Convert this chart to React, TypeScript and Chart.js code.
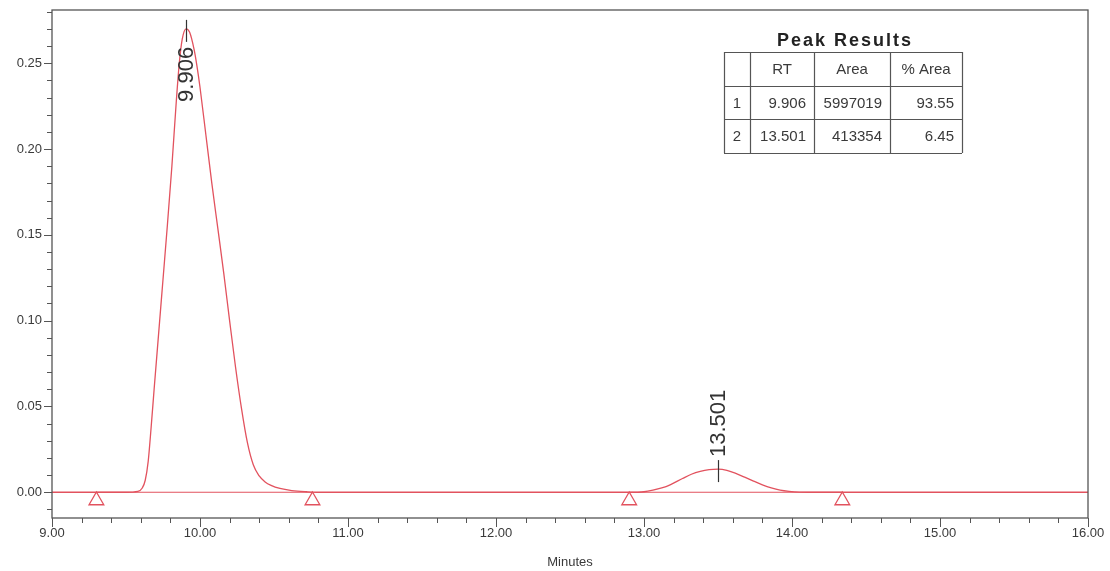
import React, { useEffect, useRef } from "react";
import { Chart, registerables } from "chart.js";

Chart.register(...registerables);

// ---- Data ----
const TIMES = [
  9.0, 9.3, 9.5, 9.58, 9.61, 9.63, 9.65, 9.67, 9.69, 9.72, 9.75, 9.78, 9.81, 9.84, 9.86, 9.88, 9.906,
  9.93, 9.96, 9.98, 10.0, 10.04, 10.08, 10.12, 10.16, 10.2, 10.24, 10.28, 10.32, 10.36, 10.4, 10.44, 10.48, 10.54,
  10.62, 10.72, 10.8, 11.5, 12.2, 12.9, 13.0, 13.06, 13.12, 13.18, 13.26, 13.32, 13.38, 13.44, 13.501, 13.56,
  13.62, 13.68, 13.74, 13.8, 13.86, 13.92, 13.98, 14.05, 14.2, 15.0, 16.0,
];
const SIGNAL = [
  0.0, 0.0, 0.0, 0.0005, 0.0025, 0.007, 0.018, 0.038, 0.06, 0.092, 0.124, 0.156, 0.19, 0.228, 0.25, 0.264, 0.27,
  0.268, 0.258, 0.248, 0.236, 0.208, 0.18, 0.154, 0.128, 0.1, 0.073, 0.049, 0.029, 0.016, 0.0095, 0.006, 0.004, 0.0022,
  0.001, 0.0003, 0.0, 0.0, 0.0, 0.0, 0.0003, 0.0012, 0.0025, 0.0045, 0.008, 0.0105, 0.0122, 0.0132, 0.0135, 0.0128,
  0.011, 0.0088, 0.0065, 0.0043, 0.0025, 0.0012, 0.0005, 0.0001, 0.0, 0.0, 0.0,
];

const PEAK_RT = [9.906, 13.501];
const PEAK_HEIGHT = [0.27, 0.0135];
const PEAK_LABELS = ["9.906", "13.501"];
const PEAK_AREA = ["5997019", "413354"];
const PEAK_PCT_AREA = ["93.55", "6.45"];

const BASELINE_START = [9.3, 12.9];
const BASELINE_END = [10.76, 14.34];
const MARKER_TIMES = [9.3, 10.76, 12.9, 14.34];
const MARKER_LEVEL = [-0.0048, -0.0048, -0.0048, -0.0048];

const X_TICKS = [9, 10, 11, 12, 13, 14, 15, 16];
const Y_TICKS = [0, 0.05, 0.1, 0.15, 0.2, 0.25];
const X_MIN = 9;
const X_MAX = 16;
const Y_MIN = -0.015;
const Y_MAX = 0.281;
const X_MINOR_STEP = 0.2;
const Y_MINOR_STEP = 0.01;

const TABLE_TITLE = "Peak Results";
const TABLE_HEADERS = ["", "RT", "Area", "% Area"];
const X_TITLE = "Minutes";

const TRACE_COLOR = "rgb(226, 82, 94)";
const AXIS_COLOR = "#555";
const TEXT_COLOR = "#3a3a3a";
const FONT = "'Liberation Sans', Arial, sans-serif";

const decorPlugin = {
  id: "decor",
  afterDraw(chart: any) {
    const { ctx, chartArea, scales } = chart;
    const xs = scales.x;
    const ys = scales.y;
    ctx.save();

    // frame
    ctx.strokeStyle = AXIS_COLOR;
    ctx.lineWidth = 1.3;
    ctx.strokeRect(chartArea.left, chartArea.top, chartArea.right - chartArea.left, chartArea.bottom - chartArea.top);

    // y ticks
    ctx.lineWidth = 1;
    ctx.beginPath();
    for (let v = Math.ceil(Y_MIN / Y_MINOR_STEP) * Y_MINOR_STEP; v <= Y_MAX + 1e-9; v += Y_MINOR_STEP) {
      const py = Math.round(ys.getPixelForValue(v)) + 0.5;
      const major = Math.abs(v / 0.05 - Math.round(v / 0.05)) < 1e-6;
      const len = major ? 8 : 5;
      ctx.moveTo(chartArea.left - len, py);
      ctx.lineTo(chartArea.left, py);
    }
    // x ticks
    for (let v = X_MIN; v <= X_MAX + 1e-9; v += X_MINOR_STEP) {
      const px = Math.round(xs.getPixelForValue(v)) + 0.5;
      const major = Math.abs(v - Math.round(v)) < 1e-6;
      const len = major ? 9 : 5;
      ctx.moveTo(px, chartArea.bottom);
      ctx.lineTo(px, chartArea.bottom + len);
    }
    ctx.stroke();

    // x title
    ctx.fillStyle = TEXT_COLOR;
    ctx.font = `13px ${FONT}`;
    ctx.textAlign = "center";
    ctx.textBaseline = "middle";
    ctx.fillText(X_TITLE, 570, 562);

    // peak markers and labels
    ctx.strokeStyle = "#333";
    ctx.lineWidth = 1.2;
    ctx.font = `22px ${FONT}`;
    PEAK_RT.forEach((rt, i) => {
      const px = Math.round(xs.getPixelForValue(rt)) + 0.5;
      const py = ys.getPixelForValue(PEAK_HEIGHT[i]);
      const top = py - 9;
      const bottom = py + 13;
      ctx.beginPath();
      ctx.moveTo(px, top);
      ctx.lineTo(px, bottom);
      ctx.stroke();
      const w = ctx.measureText(PEAK_LABELS[i]).width;
      ctx.save();
      ctx.fillStyle = "#333";
      ctx.textBaseline = "middle";
      if (top - 3 - w < chartArea.top) {
        ctx.translate(px, bottom + 5);
        ctx.rotate(-Math.PI / 2);
        ctx.textAlign = "right";
      } else {
        ctx.translate(px, top - 3);
        ctx.rotate(-Math.PI / 2);
        ctx.textAlign = "left";
      }
      ctx.fillText(PEAK_LABELS[i], 0, 0);
      ctx.restore();
    });

    // results table
    const cols = [724, 750, 814, 890, 962];
    const rows = [52, 86, 119, 153];
    ctx.strokeStyle = "#555";
    ctx.lineWidth = 1.2;
    ctx.beginPath();
    cols.forEach((c) => {
      ctx.moveTo(c + 0.5, rows[0]);
      ctx.lineTo(c + 0.5, rows[rows.length - 1]);
    });
    rows.forEach((r) => {
      ctx.moveTo(cols[0], r + 0.5);
      ctx.lineTo(cols[cols.length - 1], r + 0.5);
    });
    ctx.stroke();

    ctx.fillStyle = "#222";
    ctx.font = `bold 18px ${FONT}`;
    ctx.textAlign = "center";
    ctx.textBaseline = "middle";
    (ctx as any).letterSpacing = "2px";
    ctx.fillText(TABLE_TITLE, (cols[0] + cols[4]) / 2 + 2, 41);
    (ctx as any).letterSpacing = "0px";

    ctx.fillStyle = TEXT_COLOR;
    ctx.font = `15px ${FONT}`;
    TABLE_HEADERS.forEach((h, j) => {
      if (!h) return;
      ctx.textAlign = "center";
      ctx.fillText(h, (cols[j] + cols[j + 1]) / 2, (rows[0] + rows[1]) / 2 + 1);
    });
    PEAK_RT.forEach((rt, i) => {
      const cy = (rows[i + 1] + rows[i + 2]) / 2 + 1;
      ctx.textAlign = "center";
      ctx.fillText(String(i + 1), (cols[0] + cols[1]) / 2, cy);
      ctx.textAlign = "right";
      ctx.fillText(rt.toFixed(3), cols[2] - 8, cy);
      ctx.fillText(PEAK_AREA[i], cols[3] - 8, cy);
      ctx.fillText(PEAK_PCT_AREA[i], cols[4] - 8, cy);
    });

    ctx.restore();
  },
};

export default function App() {
  const canvasRef = useRef<HTMLCanvasElement | null>(null);

  useEffect(() => {
    if (!canvasRef.current) return;
    const trace = TIMES.map((t, i) => ({ x: t, y: SIGNAL[i] }));
    const baselines = BASELINE_START.map((s, i) => ({
      type: "line" as const,
      data: [
        { x: s, y: 0 },
        { x: BASELINE_END[i], y: 0 },
      ],
      borderColor: TRACE_COLOR,
      borderWidth: 1.2,
      pointRadius: 0,
      fill: false,
    }));
    const chart = new Chart(canvasRef.current, {
      type: "line",
      data: {
        datasets: [
          {
            data: trace,
            borderColor: TRACE_COLOR,
            borderWidth: 1.3,
            pointRadius: 0,
            cubicInterpolationMode: "monotone",
            fill: false,
          },
          ...baselines,
          {
            data: MARKER_TIMES.map((t, i) => ({ x: t, y: MARKER_LEVEL[i] })),
            showLine: false,
            pointStyle: "triangle",
            pointRadius: 8.5,
            pointBorderWidth: 1.3,
            pointBorderColor: TRACE_COLOR,
            pointBackgroundColor: "rgba(255,255,255,0)",
          },
        ] as any,
      },
      plugins: [decorPlugin],
      options: {
        animation: false,
        responsive: false,
        maintainAspectRatio: false,
        layout: { padding: { top: 10, right: 22, left: 0, bottom: 0 } },
        plugins: { legend: { display: false }, tooltip: { enabled: false } },
        scales: {
          x: {
            type: "linear",
            min: X_MIN,
            max: X_MAX,
            grid: { display: false, drawTicks: false },
            border: { display: false },
            afterBuildTicks: (s: any) => {
              s.ticks = X_TICKS.map((v) => ({ value: v }));
            },
            afterFit: (s: any) => {
              s.height = 53;
              s.paddingLeft = 0;
              s.paddingRight = 0;
            },
            ticks: {
              padding: 8,
              color: TEXT_COLOR,
              font: { family: FONT, size: 13 },
              maxRotation: 0,
              autoSkip: false,
              callback: (v: any) => Number(v).toFixed(2),
            },
          },
          y: {
            type: "linear",
            min: Y_MIN,
            max: Y_MAX,
            grid: { display: false, drawTicks: false },
            border: { display: false },
            afterBuildTicks: (s: any) => {
              s.ticks = Y_TICKS.map((v) => ({ value: v }));
            },
            afterFit: (s: any) => {
              s.width = 52;
              s.paddingTop = 0;
              s.paddingBottom = 0;
            },
            ticks: {
              padding: 10,
              color: TEXT_COLOR,
              font: { family: FONT, size: 13 },
              autoSkip: false,
              callback: (v: any) => Number(v).toFixed(2),
            },
          },
        },
      } as any,
    });
    return () => chart.destroy();
  }, []);

  return (
    <div style={{ position: "absolute", left: 0, top: 0, width: 1110, height: 571, background: "#fff" }}>
      <canvas ref={canvasRef} width={1110} height={571} />
    </div>
  );
}
